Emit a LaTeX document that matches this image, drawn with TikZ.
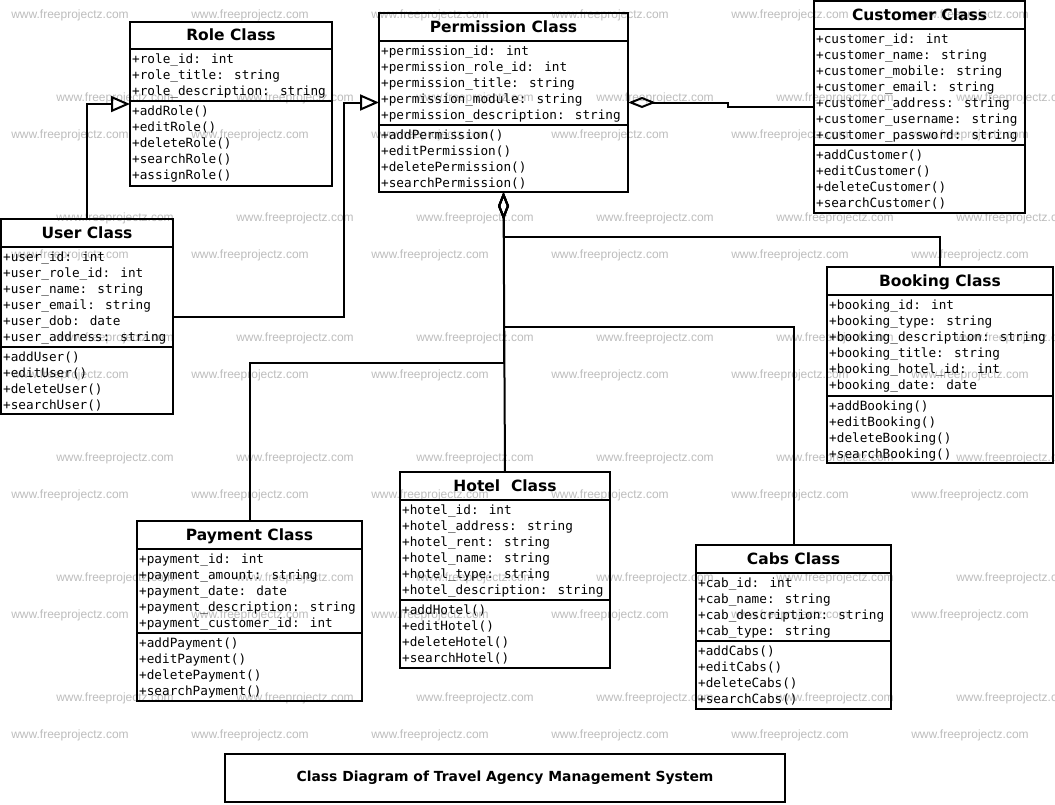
\documentclass[tikz,border=0pt]{standalone}
\usepackage{fontspec}
\usetikzlibrary{arrows.meta,calc}
\newfontfamily\monof{DejaVu Sans Mono}
\newfontfamily\sansf{DejaVu Sans}
\newfontfamily\wmf{Liberation Sans}
\definecolor{wmgray}{gray}{0.74}
\tikzset{
  ln/.style={line width=2pt},
  clsbox/.style={draw, line width=2pt, inner sep=0pt, outer sep=0pt},
  mem/.style={anchor=base west, inner sep=0pt, font=\monof\fontsize{12.7}{16}\selectfont},
  ttl/.style={anchor=base, inner sep=0pt, font=\sansf\bfseries\fontsize{15.5}{18}\selectfont},
  wm/.style={inner sep=0pt, text=wmgray, font=\wmf\fontsize{12}{14}\selectfont},
  gen/.style={ln, -{Triangle[open,length=19pt,width=16pt]}},
  agg/.style={ln, {Diamond[open,length=28pt,width=11pt]}-},
}
\newcommand{\umlcls}[8]{%
  \node[clsbox, anchor=north west, minimum width={(#4-#2)*1pt}, minimum height={(#5-#3)*1pt}] (#1) at (#2,#3) {};
  \draw[ln] (#2,#6) -- (#4,#6);
  \draw[ln] (#2,#7) -- (#4,#7);
  \node[ttl] (#1-title) at ({(#2+#4)/2},{#6-9}) {#8};
}
\newcommand{\umlmem}[4]{%
  \foreach \t [count=\i] in {#4} {\node[mem] (#1\i) at (#2,{#3+16*(\i-1)}) {\t};}
}
\begin{document}
\begin{tikzpicture}[x=1pt,y=-1pt]
\useasboundingbox[fill=white] (0,0) rectangle (1055,804);
% watermarks
\begin{scope}
\clip (0,0) rectangle (1055,804);
\foreach \k in {0,...,6} \foreach \j in {0,...,5}
  {\node[wm] (wa-\k-\j) at ({70+180*\j},{15+120*\k}) {www.freeprojectz.com};}
\foreach \k in {0,...,5} \foreach \j in {0,...,5}
  {\node[wm] (wb-\k-\j) at ({115+180*\j},{98+120*\k}) {www.freeprojectz.com};}
\end{scope}

% classes
\umlcls{role}{130}{22}{332}{186}{49}{101}{Role Class}
\umlmem{role-a}{132}{63.5}{+role\_id: int, +role\_title: string, +role\_description: string}
\umlmem{role-m}{132}{115.5}{+addRole(), +editRole(), +deleteRole(), +searchRole(), +assignRole()}

\umlcls{perm}{379}{13}{628}{192}{41}{125}{Permission Class}
\umlmem{perm-a}{381}{55}{+permission\_id: int, +permission\_role\_id: int, +permission\_title: string, +permission\_module: string, +permission\_description: string}
\umlmem{perm-m}{381}{139.5}{+addPermission(), +editPermission(), +deletePermission(), +searchPermission()}

\umlcls{cust}{814}{1}{1025}{213}{29}{145}{Customer Class}
\umlmem{cust-a}{816}{43}{+customer\_id: int, +customer\_name: string, +customer\_mobile: string, +customer\_email: string, +customer\_address: string, +customer\_username: string, +customer\_password: string}
\umlmem{cust-m}{816}{159.5}{+addCustomer(), +editCustomer(), +deleteCustomer(), +searchCustomer()}

\umlcls{book}{827}{267}{1053}{463}{295}{396}{Booking Class}
\umlmem{book-a}{829}{309}{+booking\_id: int, +booking\_type: string, +booking\_description: string, +booking\_title: string, +booking\_hotel\_id: int, +booking\_date: date}
\umlmem{book-m}{829}{410.5}{+addBooking(), +editBooking(), +deleteBooking(), +searchBooking()}

\umlcls{user}{1}{219}{173}{414}{247}{347}{User Class}
\umlmem{user-a}{3}{261}{+user\_id: int, +user\_role\_id: int, +user\_name: string, +user\_email: string, +user\_dob: date, +user\_address: string}
\umlmem{user-m}{3}{361.5}{+addUser(), +editUser(), +deleteUser(), +searchUser()}

\umlcls{pay}{137}{521}{362}{701}{549}{633}{Payment Class}
\umlmem{pay-a}{139}{563.5}{+payment\_id: int, +payment\_amount: string, +payment\_date: date, +payment\_description: string, +payment\_customer\_id: int}
\umlmem{pay-m}{139}{647.5}{+addPayment(), +editPayment(), +deletePayment(), +searchPayment()}

\umlcls{hotel}{400}{472}{610}{668}{500}{600}{Hotel\ \ Class}
\umlmem{hotel-a}{402}{514}{+hotel\_id: int, +hotel\_address: string, +hotel\_rent: string, +hotel\_name: string, +hotel\_type: string, +hotel\_description: string}
\umlmem{hotel-m}{402}{614}{+addHotel(), +editHotel(), +deleteHotel(), +searchHotel()}

\umlcls{cabs}{696}{545}{891}{709}{573}{641}{Cabs Class}
\umlmem{cabs-a}{698}{587}{+cab\_id: int, +cab\_name: string, +cab\_description: string, +cab\_type: string}
\umlmem{cabs-m}{698}{655}{+addCabs(), +editCabs(), +deleteCabs(), +searchCabs()}

% caption
\node[clsbox, anchor=north west, minimum width=560pt, minimum height=48pt,
  font=\sansf\bfseries\fontsize{13.9}{16}\selectfont] (caption) at (225,754)
  {Class Diagram of Travel Agency Management System};

% connectors
\coordinate (g2) at (344,210);
\coordinate (a3) at (728,105);
\coordinate (jb) at (503.5,237);
\coordinate (jc) at (503.5,327);
\coordinate (jp) at (503.5,363);
\draw[gen] (user.north) |- (role.west);
\draw[gen] (user.east) -| (g2) |- (perm.west);
\draw[agg] (perm.east) -| (a3) |- (cust.west);
\draw[agg] (perm.south) -- (jb) -| (book.north);
\draw[agg] (perm.south) -- (jc) -| (cabs.north);
\draw[agg] (perm.south) -- (jp) -| (pay.north);
\draw[agg] (perm.south) -- (hotel.north);
\end{tikzpicture}
\end{document}
